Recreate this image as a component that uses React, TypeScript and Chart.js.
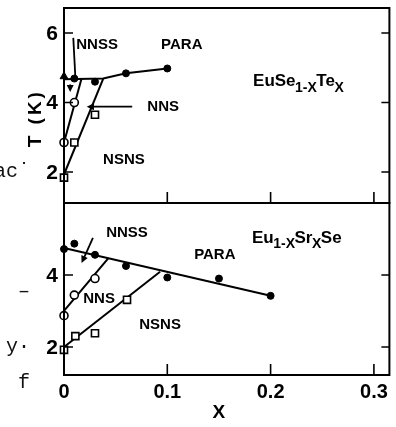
import React, { useEffect, useRef } from 'react';
import { Chart, registerables } from 'chart.js';
Chart.register(...registerables);

// ---------- Top panel: EuSe1-xTex ----------
const topParaPointsX = [0.01, 0.03, 0.06, 0.1];
const topParaPointsY = [4.69, 4.6, 4.84, 4.98];
const topTriangleX = [0];
const topTriangleY = [4.75];
const topCircleX = [0, 0.01];
const topCircleY = [2.85, 4.0];
const topSquareX = [0, 0.01, 0.03];
const topSquareY = [1.84, 2.85, 3.65];
const topParaLineX = [0, 0.038, 0.06, 0.1];
const topParaLineY = [4.67, 4.69, 4.84, 4.98];
const topNnsLineX = [0, 0.017];
const topNnsLineY = [2.85, 4.69];
const topNsnsLineX = [0, 0.038];
const topNsnsLineY = [1.93, 4.69];
const topLabels = ['NNSS', 'PARA', 'NNS', 'NSNS'];
const topLabelX = [0.032, 0.114, 0.096, 0.058];
const topLabelY = [5.65, 5.65, 3.88, 2.36];
const topYTicks = [2, 4, 6];

// ---------- Bottom panel: Eu1-xSrxSe ----------
const botParaPointsX = [0, 0.01, 0.03, 0.06, 0.1, 0.15, 0.2];
const botParaPointsY = [4.72, 4.87, 4.56, 4.25, 3.93, 3.9, 3.42];
const botCircleX = [0, 0.01, 0.03];
const botCircleY = [2.87, 3.44, 3.9];
const botSquareX = [0, 0.011, 0.03, 0.061];
const botSquareY = [1.92, 2.3, 2.38, 3.31];
const botParaLineX = [0, 0.2];
const botParaLineY = [4.75, 3.42];
const botNnsLineX = [0, 0.043];
const botNnsLineY = [3.0, 4.47];
const botNsnsLineX = [0, 0.093];
const botNsnsLineY = [2.0, 4.09];
const botLabels = ['NNSS', 'PARA', 'NNS', 'NSNS'];
const botLabelX = [0.061, 0.146, 0.034, 0.093];
const botLabelY = [5.17, 4.56, 3.33, 2.61];
const botYTicks = [2, 4];

const xTicks = [0.1, 0.2, 0.3];
const xTickValues = [0, 0.1, 0.2, 0.3];
const xTickLabels = ['0', '0.1', '0.2', '0.3'];

const topFormula = [
  { t: 'EuSe', sub: false },
  { t: '1-X', sub: true },
  { t: 'Te', sub: false },
  { t: 'X', sub: true },
];
const botFormula = [
  { t: 'Eu', sub: false },
  { t: '1-X', sub: true },
  { t: 'Sr', sub: false },
  { t: 'X', sub: true },
  { t: 'Se', sub: false },
];

const zip = (xs: number[], ys: number[]) => xs.map((x, i) => ({ x, y: ys[i] }));

type Arrow = { x0: number; y0: number; x1: number; y1: number; head: boolean };
const topArrows: Arrow[] = [
  { x0: 0.066, y0: 3.88, x1: 0.022, y1: 3.88, head: true },
  { x0: 0.006, y0: 4.52, x1: 0.006, y1: 4.3, head: true },
  { x0: 0.009, y0: 5.86, x1: 0.011, y1: 4.72, head: false },
];
const botArrows: Arrow[] = [
  { x0: 0.028, y0: 5.03, x1: 0.017, y1: 4.33, head: true },
];

const FONT = '"Liberation Sans", Arial, sans-serif';

function lineDs(xs: number[], ys: number[]) {
  return {
    data: zip(xs, ys),
    showLine: true,
    borderColor: '#000',
    borderWidth: 2,
    pointRadius: 0,
    clip: false as any,
    order: 2,
  };
}
function filledDs(xs: number[], ys: number[], style = 'circle', r = 3.5) {
  return {
    data: zip(xs, ys),
    showLine: false,
    pointStyle: style,
    pointRadius: r,
    backgroundColor: '#000',
    borderColor: '#000',
    borderWidth: 1,
    clip: false as any,
    order: 0,
  };
}
function openDs(xs: number[], ys: number[], style = 'circle', r = 4) {
  return {
    data: zip(xs, ys),
    showLine: false,
    pointStyle: style,
    pointRadius: r,
    backgroundColor: '#fff',
    borderColor: '#000',
    borderWidth: 1.6,
    clip: false as any,
    order: 0,
  };
}

function drawFormula(ctx: CanvasRenderingContext2D, parts: { t: string; sub: boolean }[], x: number, y: number) {
  let cx = x;
  ctx.textAlign = 'left';
  ctx.textBaseline = 'middle';
  for (const p of parts) {
    ctx.font = p.sub ? `bold 14px ${FONT}` : `bold 17px ${FONT}`;
    ctx.fillText(p.t, cx, p.sub ? y + 6 : y);
    cx += ctx.measureText(p.t).width - 0.5;
  }
}

function makePanelPlugin(opts: {
  yTicks: number[];
  labels: string[];
  lx: number[];
  ly: number[];
  arrows: Arrow[];
  formula: { t: string; sub: boolean }[];
  fx: number;
  fy: number;
  bottomLabels: boolean;
  yTitle: boolean;
}) {
  return {
    id: 'panel',
    afterDatasetsDraw(chart: any) {
      const ctx: CanvasRenderingContext2D = chart.ctx;
      const { left, right, top, bottom } = chart.chartArea;
      const xs = chart.scales.x;
      const ys = chart.scales.y;
      ctx.save();
      ctx.strokeStyle = '#000';
      ctx.fillStyle = '#000';
      ctx.lineWidth = 2;
      ctx.strokeRect(left, top, right - left, bottom - top);
      // y ticks
      ctx.lineWidth = 1.6;
      ctx.font = `bold 21px ${FONT}`;
      ctx.textAlign = 'right';
      ctx.textBaseline = 'middle';
      for (const v of opts.yTicks) {
        const py = ys.getPixelForValue(v);
        ctx.beginPath();
        ctx.moveTo(left, py);
        ctx.lineTo(left + 9, py);
        ctx.moveTo(right, py);
        ctx.lineTo(right - 8, py);
        ctx.stroke();
        ctx.fillText(String(v), left - 6, py + 1);
      }
      // x ticks
      for (const v of xTicks) {
        const px = xs.getPixelForValue(v);
        ctx.beginPath();
        ctx.moveTo(px, bottom);
        ctx.lineTo(px, bottom - 11);
        ctx.stroke();
      }
      if (opts.bottomLabels) {
        ctx.font = `bold 20px ${FONT}`;
        ctx.textAlign = 'center';
        ctx.textBaseline = 'top';
        xTickValues.forEach((v, i) => {
          ctx.fillText(xTickLabels[i], xs.getPixelForValue(v), bottom + 7);
        });
        ctx.font = `bold 19px ${FONT}`;
        ctx.fillText('X', xs.getPixelForValue(0.15), bottom + 28);
      }
      if (opts.yTitle) {
        ctx.save();
        ctx.translate(36, ys.getPixelForValue(3.55));
        ctx.rotate(-Math.PI / 2);
        ctx.font = `bold 19px ${FONT}`;
        (ctx as any).letterSpacing = '3px';
        ctx.textAlign = 'center';
        ctx.textBaseline = 'middle';
        ctx.fillText('T (K)', 0, 0);
        ctx.restore();
      }
      // region labels
      ctx.font = `bold 15px ${FONT}`;
      ctx.textAlign = 'center';
      ctx.textBaseline = 'middle';
      opts.labels.forEach((l, i) => {
        ctx.fillText(l, xs.getPixelForValue(opts.lx[i]), ys.getPixelForValue(opts.ly[i]));
      });
      drawFormula(ctx, opts.formula, xs.getPixelForValue(opts.fx), ys.getPixelForValue(opts.fy));
      // arrows
      ctx.lineWidth = 1.8;
      for (const a of opts.arrows) {
        const x0 = xs.getPixelForValue(a.x0), y0 = ys.getPixelForValue(a.y0);
        const x1 = xs.getPixelForValue(a.x1), y1 = ys.getPixelForValue(a.y1);
        const ang = Math.atan2(y1 - y0, x1 - x0);
        ctx.beginPath();
        ctx.moveTo(x0, y0);
        ctx.lineTo(a.head ? x1 - Math.cos(ang) * 5 : x1, a.head ? y1 - Math.sin(ang) * 5 : y1);
        ctx.stroke();
        if (a.head) {
          ctx.beginPath();
          ctx.moveTo(x1, y1);
          ctx.lineTo(x1 - Math.cos(ang - 0.45) * 8, y1 - Math.sin(ang - 0.45) * 8);
          ctx.lineTo(x1 - Math.cos(ang + 0.45) * 8, y1 - Math.sin(ang + 0.45) * 8);
          ctx.closePath();
          ctx.fill();
        }
      }
      ctx.restore();
    },
  };
}

const marginTexts = ['ac\u02d9', '\u2013', 'y\u00b7', 'f'];
const marginTextY = [172, 292, 347, 383];

const marginPlugin = {
  id: 'margin',
  afterDraw(chart: any) {
    const ctx: CanvasRenderingContext2D = chart.ctx;
    ctx.save();
    ctx.fillStyle = '#111';
    ctx.font = `20px "Liberation Mono", "DejaVu Sans Mono", monospace`;
    ctx.textAlign = 'right';
    ctx.textBaseline = 'middle';
    marginTexts.forEach((t, i) => ctx.fillText(t, 30, marginTextY[i]));
    ctx.restore();
  },
};

export default function App() {
  const topRef = useRef<HTMLCanvasElement>(null);
  const botRef = useRef<HTMLCanvasElement>(null);

  useEffect(() => {
    const common = (ymin: number, ymax: number) => ({
      responsive: false,
      animation: false as const,
      plugins: { legend: { display: false }, tooltip: { enabled: false } },
      scales: {
        x: { type: 'linear' as const, min: 0, max: 0.315, display: false },
        y: { type: 'linear' as const, min: ymin, max: ymax, display: false },
      },
    });

    const top = new Chart(topRef.current!, {
      type: 'scatter',
      data: {
        datasets: [
          filledDs(topParaPointsX, topParaPointsY),
          filledDs(topTriangleX, topTriangleY, 'triangle', 4.5),
          openDs(topCircleX, topCircleY, 'circle', 4),
          openDs(topSquareX, topSquareY, 'rect', 5),
          lineDs(topParaLineX, topParaLineY),
          lineDs(topNnsLineX, topNnsLineY),
          lineDs(topNsnsLineX, topNsnsLineY),
        ] as any,
      },
      options: {
        ...common(1.11, 6.72),
        layout: { padding: { left: 64, right: 6, top: 8, bottom: 224 } },
      } as any,
      plugins: [
        makePanelPlugin({
          yTicks: topYTicks,
          labels: topLabels,
          lx: topLabelX,
          ly: topLabelY,
          arrows: topArrows,
          formula: topFormula,
          fx: 0.183,
          fy: 4.6,
          bottomLabels: false,
          yTitle: true,
        }),
        marginPlugin,
      ],
    });

    const bot = new Chart(botRef.current!, {
      type: 'scatter',
      data: {
        datasets: [
          filledDs(botParaPointsX, botParaPointsY),
          openDs(botCircleX, botCircleY, 'circle', 4),
          openDs(botSquareX, botSquareY, 'rect', 5),
          lineDs(botParaLineX, botParaLineY),
          lineDs(botNnsLineX, botNnsLineY),
          lineDs(botNsnsLineX, botNsnsLineY),
        ] as any,
      },
      options: {
        ...common(1.22, 6.0),
        layout: { padding: { left: 64, right: 6, top: 203, bottom: 52 } },
      } as any,
      plugins: [
        makePanelPlugin({
          yTicks: botYTicks,
          labels: botLabels,
          lx: botLabelX,
          ly: botLabelY,
          arrows: botArrows,
          formula: botFormula,
          fx: 0.182,
          fy: 5.03,
          bottomLabels: true,
          yTitle: false,
        }),
      ],
    });

    return () => {
      top.destroy();
      bot.destroy();
    };
  }, []);

  const cs: React.CSSProperties = { position: 'absolute', left: 0, top: 0 };
  return (
    <div style={{ position: 'absolute', left: 0, top: 0, width: 396, height: 427, background: '#fff' }}>
      <canvas ref={topRef} width={396} height={427} style={cs} />
      <canvas ref={botRef} width={396} height={427} style={cs} />
    </div>
  );
}
